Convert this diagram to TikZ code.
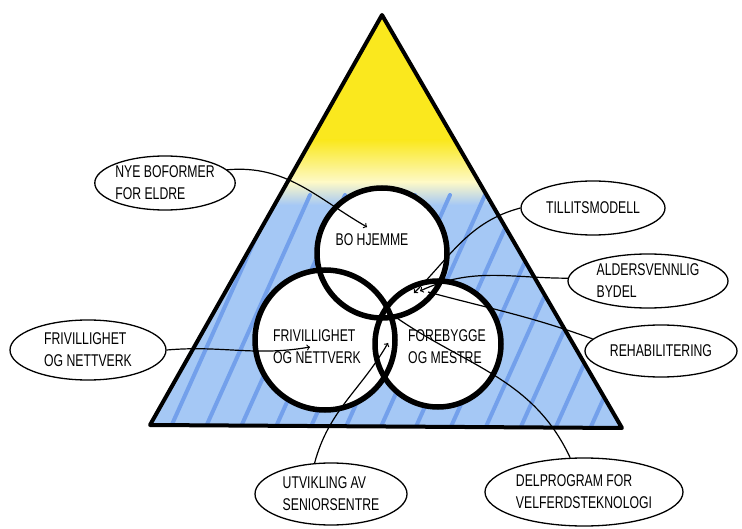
\documentclass[tikz,border=0pt]{standalone}
\usepackage{fontspec}
\newfontfamily\handfont[FakeStretch=0.72]{Liberation Sans}
\usetikzlibrary{positioning,arrows,shapes.geometric}
\definecolor{sunny}{RGB}{250,232,30}
\definecolor{skyfill}{RGB}{165,200,245}
\definecolor{skystripe}{RGB}{115,160,235}
\tikzset{
  bubble/.style={draw=black, line width=1.3pt, ellipse, inner sep=0pt, align=left,
    font=\handfont\fontsize{17}{22}\selectfont},
  ringtext/.style={align=left, font=\handfont\fontsize{17}{22}\selectfont},
  ring/.style={draw=black, line width=5.5pt},
  lead/.style={line width=1.2pt, draw=black, ->},
  plainlead/.style={line width=1.2pt, draw=black},
  stripe/.style={draw=skystripe, line width=4pt, line cap=round}
}

\begin{document}
\begin{tikzpicture}[x=1pt,y=-1pt]
      \useasboundingbox (0,0) rectangle (742,529);
      \coordinate (apex) at (382,15);
      \coordinate (lc) at (150,425);
      \coordinate (rc) at (622,428);
      % triangle: yellow top, striped blue below
      \begin{scope}
        \clip (apex) -- (lc) -- (rc) -- cycle;
        \fill[skyfill] (0,0) rectangle (742,529);
        \fill[sunny] (0,0) rectangle (742,140);
        \shade[top color=sunny, bottom color=sunny!25!white] (0,140) rectangle (742,182);
        \shade[top color=sunny!25!white, bottom color=skyfill] (0,182) rectangle (742,205);
        \foreach \s in {60,95,...,640}
          \draw[stripe] (\s,440) -- ++(110,-245);
      \end{scope}
      \draw[line width=4pt, line join=round] (apex) -- (lc) -- (rc) -- cycle;
      % the three circles
      \foreach \cx/\cy/\r in {382/253/65, 325/340/70, 438/344/63}
        \fill[white] (\cx,\cy) circle (\r);
      \foreach \cx/\cy/\r in {382/253/65, 325/340/70, 438/344/63}
        \draw[ring] (\cx,\cy) circle (\r);
      \node[ringtext] (bo) at (372,240) {BO HJEMME};
      \node[ringtext] (friv) at (317,347) {FRIVILLIGHET\\OG NETTVERK};
      \node[ringtext] (fore) at (447,347) {FOREBYGGE\\OG MESTRE};
      % labels round the triangle
      \node[bubble, minimum width=132pt, minimum height=54pt] (nye) at (165,183) {NYE BOFORMER\\FOR ELDRE};
      \node[bubble, minimum width=144pt, minimum height=54pt] (tillit) at (593,208) {TILLITSMODELL};
      \node[bubble, minimum width=160pt, minimum height=54pt] (alder) at (648,281) {ALDERSVENNLIG\\BYDEL};
      \node[bubble, minimum width=152pt, minimum height=52pt] (rehab) at (661,351) {REHABILITERING};
      \node[bubble, minimum width=156pt, minimum height=60pt] (frivb) at (88,350) {FRIVILLIGHET\\OG NETTVERK};
      \node[bubble, minimum width=152pt, minimum height=62pt] (utv) at (331,494) {UTVIKLING AV\\SENIORSENTRE};
      \node[bubble, minimum width=198pt, minimum height=68pt] (delp) at (584,492) {DELPROGRAM FOR\\VELFERDSTEKNOLOGI};
      % targets of the leads
      \coordinate (tbo) at (367,227);
      \coordinate (tmid) at (414,293);
      \coordinate (tmid2) at (420,291);
      \coordinate (trehab) at (428,292);
      \coordinate (tfriv) at (310,347);
      \coordinate (tutv) at (388,343);
      \coordinate (tdelp) at (394,316);
      \draw[lead] (nye.12) to[out=5,in=150] (tbo);
      \draw[lead] (tillit.180) to[out=195,in=45] (tmid);
      \draw[lead] (alder.178) to[out=180,in=25] (tmid2);
      \draw[plainlead] (rehab.170) to[out=160,in=-15] (trehab);
      \draw[lead] (frivb.0) to[out=5,in=190] (tfriv);
      \draw[lead] (utv.118) to[out=75,in=240] (tutv);
      \draw[plainlead] (delp.112) to[out=115,in=-35] (tdelp);
\end{tikzpicture}
\end{document}
